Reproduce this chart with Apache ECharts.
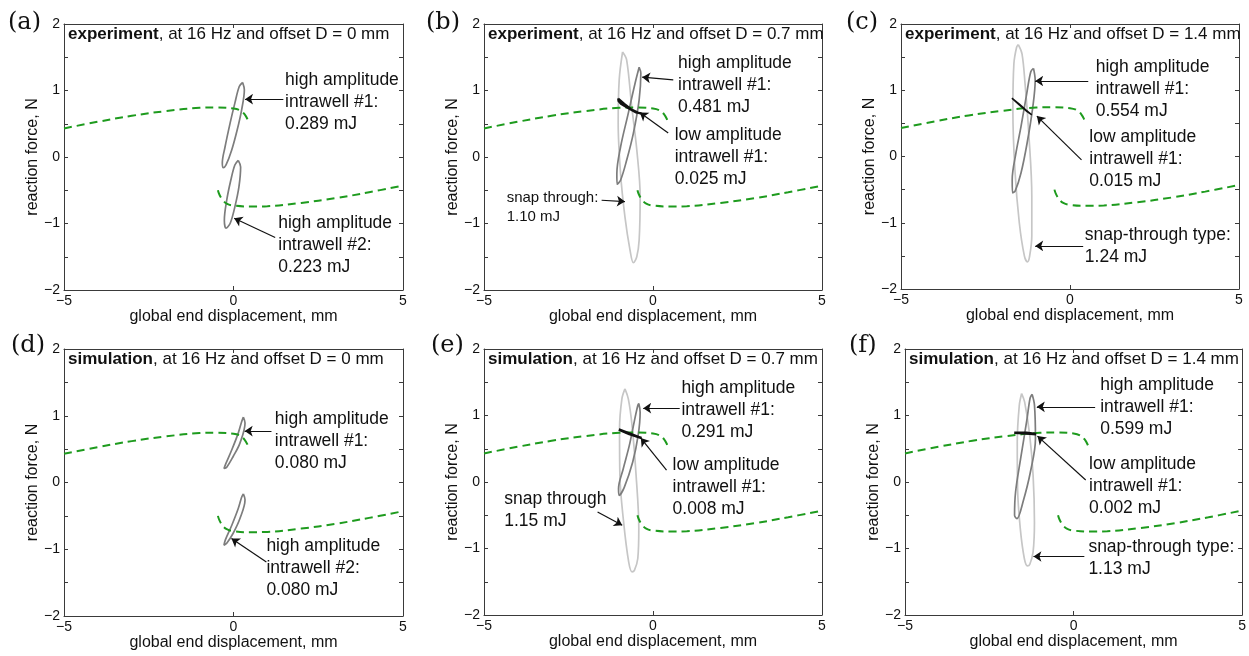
<!DOCTYPE html>
<html><head><meta charset="utf-8">
<script src="https://cdn.jsdelivr.net/npm/echarts@6.0.0/dist/echarts.min.js"></script>
<style>html,body{margin:0;padding:0;background:#fff}#c{width:1249px;height:656px}</style>
</head><body><div id="c"></div>
<script>
// ---------- data ----------
const xTickValues = [-5, 0, 5];
const yTickLabels = [-2, -1, 0, 1, 2];
const yTickStep = 0.5;
const panelLetters = ['(a)', '(b)', '(c)', '(d)', '(e)', '(f)'];
const panelSources = ['experiment', 'experiment', 'experiment', 'simulation', 'simulation', 'simulation'];
const panelOffsets = ['0', '0.7', '1.4', '0', '0.7', '1.4'];
const xName = 'global end displacement, mm';
const yName = 'reaction force, N';

// static (dashed green) branches
const greenUpper = [[-5,0.43],[-4,0.53],[-3,0.62],[-2,0.69],[-1,0.74],[-0.5,0.745],[0,0.73],[0.2,0.70],[0.33,0.64],[0.42,0.56],[0.46,0.50]];
const greenLower = [[-0.46,-0.50],[-0.42,-0.56],[-0.33,-0.64],[-0.2,-0.70],[0,-0.73],[0.5,-0.745],[1,-0.74],[2,-0.69],[3,-0.62],[4,-0.53],[5,-0.43]];

// hysteresis loops
const loopA1 = [[0.27,1.12],[0.32,1.01],[0.24,0.71],[0.11,0.41],[-0.05,0.11],[-0.22,-0.12],[-0.30,-0.16],[-0.33,-0.09],[-0.25,0.15],[-0.10,0.51],[0.04,0.81],[0.17,1.06],[0.27,1.12]];
const loopA2 = [[0.14,-0.05],[0.21,-0.15],[0.16,-0.45],[0.04,-0.75],[-0.10,-1.0],[-0.22,-1.07],[-0.27,-0.95],[-0.20,-0.65],[-0.08,-0.35],[0.04,-0.12],[0.14,-0.05]];
const snapB = [[-0.90,1.58],[-0.78,1.46],[-0.63,0.76],[-0.48,0.11],[-0.38,-0.60],[-0.41,-1.25],[-0.48,-1.50],[-0.58,-1.59],[-0.68,-1.40],[-0.83,-0.90],[-0.96,-0.25],[-1.03,0.51],[-1.00,1.16],[-0.90,1.58]];
const highB = [[-0.41,1.35],[-0.36,1.26],[-0.41,0.86],[-0.58,0.36],[-0.78,-0.05],[-0.96,-0.35],[-1.06,-0.41],[-1.07,-0.25],[-0.96,0.15],[-0.73,0.66],[-0.53,1.11],[-0.41,1.35]];
const lowB = [[-1.03,0.88],[-0.98,0.87],[-0.85,0.80],[-0.65,0.72],[-0.45,0.67],[-0.33,0.65],[-0.50,0.67],[-0.75,0.74],[-0.95,0.80],[-1.02,0.84],[-1.03,0.88]];
const snapC = [[-1.53,1.69],[-1.42,1.55],[-1.33,1.10],[-1.22,0.35],[-1.13,-0.60],[-1.13,-1.20],[-1.20,-1.52],[-1.26,-1.59],[-1.35,-1.50],[-1.50,-1.00],[-1.63,-0.20],[-1.69,0.70],[-1.66,1.40],[-1.58,1.65],[-1.53,1.69]];
const highC = [[-1.08,1.33],[-1.03,1.15],[-1.10,0.75],[-1.27,0.20],[-1.45,-0.25],[-1.62,-0.52],[-1.70,-0.55],[-1.71,-0.35],[-1.60,0.05],[-1.45,0.45],[-1.28,0.95],[-1.16,1.28],[-1.08,1.33]];
const lowC = [[-1.72,0.88],[-1.50,0.79],[-1.30,0.70],[-1.13,0.63],[-1.30,0.69],[-1.50,0.78],[-1.72,0.88]];
const loopD1 = [[0.29,0.98],[0.34,0.89],[0.19,0.59],[-0.01,0.39],[-0.20,0.23],[-0.28,0.21],[-0.22,0.29],[-0.05,0.49],[0.14,0.74],[0.24,0.91],[0.29,0.98]];
const loopD2 = [[0.29,-0.17],[0.34,-0.26],[0.19,-0.54],[-0.01,-0.76],[-0.20,-0.91],[-0.28,-0.94],[-0.24,-0.86],[-0.05,-0.64],[0.14,-0.39],[0.24,-0.22],[0.29,-0.17]];
const snapE = [[-0.83,1.40],[-0.73,1.25],[-0.62,0.85],[-0.50,0.10],[-0.42,-0.70],[-0.45,-1.15],[-0.55,-1.33],[-0.62,-1.35],[-0.72,-1.20],[-0.87,-0.60],[-0.98,0.10],[-0.99,0.80],[-0.92,1.25],[-0.83,1.40]];
const highE = [[-0.42,1.18],[-0.38,1.05],[-0.44,0.70],[-0.60,0.30],[-0.85,-0.08],[-1.00,-0.20],[-1.02,-0.10],[-0.88,0.20],[-0.70,0.55],[-0.55,0.92],[-0.45,1.15],[-0.42,1.18]];
const lowE = [[-1.01,0.79],[-0.70,0.73],[-0.34,0.66],[-0.70,0.72],[-1.01,0.79]];
const snapF = [[-1.54,1.33],[-1.45,1.20],[-1.30,0.70],[-1.20,0.10],[-1.16,-0.60],[-1.20,-1.05],[-1.30,-1.24],[-1.37,-1.26],[-1.46,-1.15],[-1.58,-0.70],[-1.66,-0.10],[-1.67,0.60],[-1.61,1.15],[-1.54,1.33]];
const highF = [[-1.23,1.32],[-1.16,1.16],[-1.13,0.65],[-1.28,0.15],[-1.50,-0.30],[-1.68,-0.55],[-1.75,-0.50],[-1.72,-0.15],[-1.57,0.35],[-1.38,0.95],[-1.29,1.26],[-1.23,1.32]];
const lowF = [[-1.76,0.74],[-1.40,0.74],[-1.11,0.72],[-1.40,0.73],[-1.76,0.74]];

// annotation texts with anchor (data units)
const notesA = [['high amplitude\nintrawell #1:\n0.289 mJ', 1.52, 0.82], ['high amplitude\nintrawell #2:\n0.223 mJ', 1.32, -1.32]];
const notesB = [['high amplitude\nintrawell #1:\n0.481 mJ', 0.74, 1.08], ['low amplitude\nintrawell #1:\n0.025 mJ', 0.64, 0.0], ['snap through:\n1.10 mJ', -4.33, -0.76, 'small']];
const notesC = [['high amplitude\nintrawell #1:\n0.554 mJ', 0.76, 1.01], ['low amplitude\nintrawell #1:\n0.015 mJ', 0.57, -0.04], ['snap-through type:\n1.24 mJ', 0.44, -1.36]];
const notesD = [['high amplitude\nintrawell #1:\n0.080 mJ', 1.22, 0.62], ['high amplitude\nintrawell #2:\n0.080 mJ', 0.97, -1.29]];
const notesE = [['high amplitude\nintrawell #1:\n0.291 mJ', 0.84, 1.08], ['low amplitude\nintrawell #1:\n0.008 mJ', 0.58, -0.08], ['snap through\n1.15 mJ', -4.40, -0.42]];
const notesF = [['high amplitude\nintrawell #1:\n0.599 mJ', 0.79, 1.12], ['low amplitude\nintrawell #1:\n0.002 mJ', 0.46, -0.06], ['snap-through type:\n1.13 mJ', 0.44, -1.14]];

// arrows [fromX, fromY, toX, toY]
const arrowsA = [[1.47,0.87,0.34,0.87],[1.23,-1.21,0.02,-0.92]];
const arrowsB = [[0.60,1.16,-0.32,1.20],[0.45,0.36,-0.39,0.67],[-1.52,-0.65,-0.83,-0.67]];
const arrowsC = [[0.54,1.14,-1.03,1.14],[0.34,-0.05,-0.98,0.61],[0.39,-1.35,-1.03,-1.35]];
const arrowsD = [[1.12,0.77,0.33,0.77],[0.97,-1.19,-0.06,-0.84]];
const arrowsE = [[0.79,1.11,-0.29,1.11],[0.40,0.18,-0.36,0.66],[-1.64,-0.45,-0.91,-0.65]];
const arrowsF = [[0.64,1.13,-1.09,1.13],[0.36,0.03,-1.07,0.69],[0.32,-1.12,-1.19,-1.12]];

// ---------- layout / styles ----------
const FONT = 'Liberation Sans, Arial, sans-serif';
const TXT = '#111111';
const AX = '#3a3a3a';
const GREEN = '#1e9b1e';
const DARK = '#7d7d7d';
const LIGHT = '#c6c6c6';
const BLACK = '#111111';

const panels = [
  {rect:[64,24,339,266],  letter:[8,11],   loops:[[loopA1,DARK,1.7],[loopA2,DARK,1.7]], notes:notesA, arrows:arrowsA},
  {rect:[484,24,338,266], letter:[426,11], loops:[[snapB,LIGHT,1.7],[highB,DARK,1.7]], low:[lowB,2.2], notes:notesB, arrows:arrowsB},
  {rect:[901,24,338,265], letter:[846,11], loops:[[snapC,LIGHT,1.7],[highC,DARK,1.7]], low:[lowC,1.5], notes:notesC, arrows:arrowsC},
  {rect:[64,349,339,267], letter:[11,334], loops:[[loopD1,DARK,1.7],[loopD2,DARK,1.7]], notes:notesD, arrows:arrowsD},
  {rect:[484,349,338,266],letter:[431,334],loops:[[snapE,LIGHT,1.7],[highE,DARK,1.7]], low:[lowE,2.6], notes:notesE, arrows:arrowsE},
  {rect:[905,349,338,266],letter:[849,334],loops:[[snapF,LIGHT,1.7],[highF,DARK,1.7]], low:[lowF,2.6], notes:notesF, arrows:arrowsF}
];

const fmt = v => (v < 0 ? '\u2212' + Math.abs(v) : String(v));

const grid = [], xAxis = [], yAxis = [], series = [], title = [];
panels.forEach((p, i) => {
  const [l, t, w, h] = p.rect;
  grid.push({left:l, top:t, width:w, height:h, containLabel:false, show:false});
  const tick = {inside:true, length:4, lineStyle:{color:AX, width:1}};
  const line = {show:true, onZero:false, lineStyle:{color:AX, width:1}};
  const xmin = xTickValues[0], xmax = xTickValues[xTickValues.length-1], xint = xTickValues[1]-xTickValues[0];
  const ymin = yTickLabels[0], ymax = yTickLabels[yTickLabels.length-1];
  xAxis.push({type:'value', gridIndex:i, min:xmin, max:xmax, interval:xint, position:'bottom',
    axisLine:line, axisTick:tick, splitLine:{show:false},
    axisLabel:{margin:4, fontSize:14, color:TXT, fontFamily:FONT, formatter:fmt},
    name:xName, nameLocation:'middle', nameGap:18, nameTextStyle:{fontSize:16, color:TXT, fontFamily:FONT}});
  xAxis.push({type:'value', gridIndex:i, min:xmin, max:xmax, interval:xint, position:'top',
    axisLine:line, axisTick:tick, splitLine:{show:false}, axisLabel:{show:false}});
  yAxis.push({type:'value', gridIndex:i, min:ymin, max:ymax, interval:yTickStep, position:'left',
    axisLine:line, axisTick:tick, splitLine:{show:false},
    axisLabel:{margin:4, fontSize:14, color:TXT, fontFamily:FONT,
      formatter: v => (yTickLabels.indexOf(v) >= 0 ? fmt(v) : '')},
    name:yName, nameLocation:'middle', nameGap:23, nameRotate:90, nameTextStyle:{fontSize:16, color:TXT, fontFamily:FONT}});
  yAxis.push({type:'value', gridIndex:i, min:ymin, max:ymax, interval:yTickStep, position:'right',
    axisLine:line, axisTick:tick, splitLine:{show:false}, axisLabel:{show:false}});

  const xi = 2*i, yi = 2*i;
  // loops
  p.loops.forEach(([d, c, wd]) => {
    series.push({type:'line', xAxisIndex:xi, yAxisIndex:yi, data:d, smooth:0.35, symbol:'none',
      lineStyle:{color:c, width:wd}, silent:true, z:2});
  });
  // green static curve
  [greenUpper, greenLower].forEach(d => {
    series.push({type:'line', xAxisIndex:xi, yAxisIndex:yi, data:d, smooth:0.4, symbol:'none',
      lineStyle:{color:GREEN, width:2, type:[8,5]}, silent:true, z:3});
  });
  if (p.low) {
    series.push({type:'line', xAxisIndex:xi, yAxisIndex:yi, data:p.low[0], smooth:false, symbol:'none',
      lineStyle:{color:BLACK, width:p.low[1]}, silent:true, z:4});
  }
  // arrows
  series.push({type:'lines', coordinateSystem:'cartesian2d', xAxisIndex:xi, yAxisIndex:yi,
    symbol:['none','arrow'], symbolSize:8, silent:true, z:5,
    lineStyle:{color:BLACK, width:1.2, opacity:1},
    data:p.arrows.map(a => ({coords:[[a[0],a[1]],[a[2],a[3]]]}))});
  // notes
  series.push({type:'scatter', xAxisIndex:xi, yAxisIndex:yi, symbol:'circle', symbolSize:0,
    itemStyle:{color:'#000', opacity:1}, silent:true, z:6,
    label:{show:true, position:'right', distance:0, formatter:'{b}', fontSize:17.5, lineHeight:22,
      color:TXT, opacity:1, fontFamily:FONT, align:'left'},
    data:p.notes.map(n => ({name:n[0], value:[n[1], n[2]],
      label: n[3] === 'small' ? {fontSize:15, lineHeight:19} : undefined}))});

  // in-plot title and panel letter
  title.push({left:l+4, top:t+2, padding:0,
    text:'{b|' + panelSources[i] + '}, at 16 Hz and offset D = ' + panelOffsets[i] + ' mm',
    textStyle:{fontSize:17, fontWeight:'normal', color:TXT, fontFamily:FONT,
      rich:{b:{fontSize:17, fontWeight:'bold', color:TXT, fontFamily:FONT}}}});
  title.push({left:p.letter[0], top:p.letter[1], padding:0, text:panelLetters[i],
    textStyle:{fontSize:24, fontWeight:'normal', color:TXT, fontFamily:'DejaVu Serif, serif'}});
});

const chart = echarts.init(document.getElementById('c'));
chart.setOption({animation:false, backgroundColor:'#fff', title, grid, xAxis, yAxis, series});
</script></body></html>
